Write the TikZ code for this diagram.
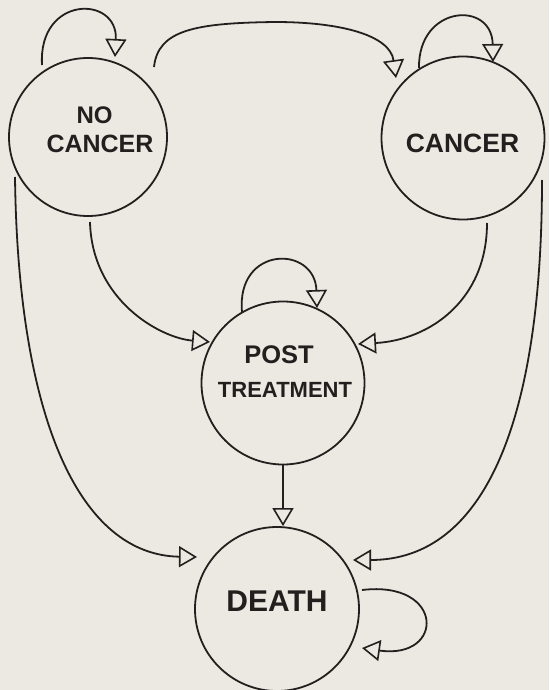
\documentclass[tikz,border=0pt]{standalone}
\usepackage{fontspec}
\setmainfont{Liberation Sans}
\usetikzlibrary{arrows.meta,calc}
\definecolor{paper}{RGB}{236,233,226}
\definecolor{ink}{RGB}{34,32,30}
\begin{document}
\begin{tikzpicture}[x=1pt,y=-1pt,
  stnode/.style={circle,draw=ink,line width=1.8pt,inner sep=0pt},
  lbl/.style={text=ink,inner sep=0pt},
  conn/.style={draw=ink,line width=1.8pt,-{Triangle[open,length=18pt,width=21pt,line width=1.6pt]}}]
\fill[paper] (0,0) rectangle (549,690);
\useasboundingbox (0,0) rectangle (549,690);
% states
\node[stnode,minimum size=158pt] (nc) at (88,137) {};
\node[stnode,minimum size=163pt] (ca) at (463,138) {};
\node[stnode,minimum size=163pt] (pt) at (283,383) {};
\node[stnode,minimum size=164pt] (de) at (277,609) {};
% labels
\node[lbl,font=\bfseries\fontsize{24}{26}\selectfont] (ncl1) at (94.5,115.5) {NO};
\node[lbl,font=\bfseries\fontsize{25}{26}\selectfont] (ncl2) at (100,143.5) {CANCER};
\node[lbl,font=\bfseries\fontsize{26.5}{28}\selectfont] (cal) at (462.5,143) {CANCER};
\node[lbl,font=\bfseries\fontsize{25.5}{28}\selectfont] (ptl1) at (279,354.5) {POST};
\node[lbl,font=\bfseries\fontsize{22}{24}\selectfont] (ptl2) at (285,390) {TREATMENT};
\node[lbl,font=\bfseries\fontsize{30}{32}\selectfont] (del) at (277,601) {DEATH};
% connector end points (relative to the states)
\coordinate (nc-a) at ($(nc)+(-46,-72)$);
\coordinate (nc-b) at ($(nc)+(27,-80)$);
\coordinate (nc-c) at ($(nc)+(66,-70)$);
\coordinate (nc-d) at ($(nc)+(2,85)$);
\coordinate (nc-e) at ($(nc)+(-73,40)$);
\coordinate (ca-a) at ($(ca)+(-67,-60)$);
\coordinate (ca-b) at ($(ca)+(-44,-70)$);
\coordinate (ca-c) at ($(ca)+(30,-76)$);
\coordinate (ca-d) at ($(ca)+(24,85)$);
\coordinate (ca-e) at ($(ca)+(79,42)$);
\coordinate (pt-a) at ($(pt)+(-73,-41)$);
\coordinate (pt-b) at ($(pt)+(75,-39)$);
\coordinate (pt-c) at ($(pt)+(-41,-71)$);
\coordinate (pt-d) at ($(pt)+(34,-75)$);
\coordinate (de-a) at ($(de)+(-80,-52)$);
\coordinate (de-b) at ($(de)+(76,-49)$);
\coordinate (de-c) at ($(de)+(85,-19)$);
\coordinate (de-d) at ($(de)+(85,39)$);
% self loops
\draw[conn] (nc-a) .. controls ($(nc-a)+(-4,-70)$) and ($(nc-b)+(3,-62)$) .. (nc-b);
\draw[conn] (ca-b) .. controls ($(ca-b)+(-1,-63)$) and ($(ca-c)+(-1,-62)$) .. (ca-c);
\draw[conn] (pt-c) .. controls ($(pt-c)+(-6,-67)$) and ($(pt-d)+(-2,-63)$) .. (pt-d);
\draw[conn] (de-c) .. controls ($(de-c)+(83,-10)$) and ($(de-d)+(83,12)$) .. (de-d);
% transitions
\draw[conn] (nc-c) .. controls ($(nc-c)+(4,-37)$) and (195,23) .. (275,22)
  .. controls (340,22) and ($(ca-a)+(-6,-43)$) .. (ca-a);
\draw[conn] (nc-d) .. controls ($(nc-d)+(2,78)$) and ($(pt-a)+(-50,-4)$) .. (pt-a);
\draw[conn] (ca-d) .. controls ($(ca-d)+(0,77)$) and ($(pt-b)+(72,-4)$) .. (pt-b);
\draw[conn] (nc-e) .. controls ($(nc-e)+(3,243)$) and ($(de-a)+(-117,-2)$) .. (de-a);
\draw[conn] (ca-e) .. controls ($(ca-e)+(0,240)$) and ($(de-b)+(132,0)$) .. (de-b);
\draw[conn] (pt.south) -- (pt.south |- de.north);
\end{tikzpicture}
\end{document}
